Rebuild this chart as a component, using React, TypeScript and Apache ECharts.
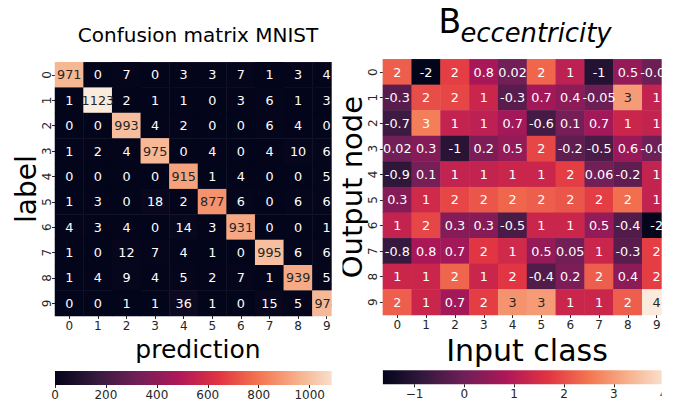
import React, { useEffect, useRef } from "react";
import * as echarts from "echarts";

// ---------- data ----------
const classes = ["0", "1", "2", "3", "4", "5", "6", "7", "8", "9"];

// Confusion matrix MNIST: rows = label, columns = prediction
const mnistRow0 = [971, 0, 7, 0, 3, 3, 7, 1, 3, 4];
const mnistRow1 = [1, 1123, 2, 1, 1, 0, 3, 6, 1, 3];
const mnistRow2 = [0, 0, 993, 4, 2, 0, 0, 6, 4, 0];
const mnistRow3 = [1, 2, 4, 975, 0, 4, 0, 4, 10, 6];
const mnistRow4 = [0, 0, 0, 0, 915, 1, 4, 0, 0, 5];
const mnistRow5 = [1, 3, 0, 18, 2, 877, 6, 0, 6, 6];
const mnistRow6 = [4, 3, 4, 0, 14, 3, 931, 0, 0, 1];
const mnistRow7 = [1, 0, 12, 7, 4, 1, 0, 995, 6, 6];
const mnistRow8 = [1, 4, 9, 4, 5, 2, 7, 1, 939, 5];
const mnistRow9 = [0, 0, 1, 1, 36, 1, 0, 15, 5, 978];
const mnistCounts = [mnistRow0, mnistRow1, mnistRow2, mnistRow3, mnistRow4, mnistRow5, mnistRow6, mnistRow7, mnistRow8, mnistRow9];

// B_eccentricity: rows = output node, columns = input class
const eccRow0 = [2.2, -1.635, 1.8, 0.8, 0.02, 2.3, 1.1, -1.1, 0.5, -0.04];
const eccRow1 = [-0.3, 2.0, 1.9, 1.3, -0.3, 0.7, 0.4, -0.05, 3.0, 1.2];
const eccRow2 = [-0.7, 2.6, 1.2, 1.1, 0.7, -0.6, 0.1, 0.7, 1.3, 1.2];
const eccRow3 = [0.02, 0.3, -1.0, 0.2, 0.5, 1.9, -0.2, -0.5, 0.6, -0.03];
const eccRow4 = [-0.9, 0.1, 1.2, 1.2, 1.3, 1.3, 1.8, 0.06, -0.2, 1.2];
const eccRow5 = [0.3, 1.4, 1.9, 2.1, 2.3, 2.2, 2.1, 1.8, 2.4, 1.2];
const eccRow6 = [1.2, 1.9, 0.3, 0.3, -0.5, 1.3, 1.3, 0.5, -0.4, -1.6];
const eccRow7 = [-0.8, 0.8, 0.7, 1.7, 1.4, 0.5, 0.05, 1.3, -0.3, 1.8];
const eccRow8 = [1.3, 1.3, 2.3, 1.3, 1.7, -0.4, 0.2, 2.2, 0.4, 1.8];
const eccRow9 = [2.2, 1.3, 0.7, 1.8, 2.9, 3.0, 1.3, 1.3, 2.2, 4.15];
const eccentricity = [eccRow0, eccRow1, eccRow2, eccRow3, eccRow4, eccRow5, eccRow6, eccRow7, eccRow8, eccRow9];

// seaborn "rocket" colormap key colours
const ROCKET = ["#03051A", "#35193E", "#701F57", "#AD1759", "#E13342", "#F37651", "#F6B48F", "#FAEBDD"];

const FONT = "DejaVu Sans";
const DARK = "#262626";

// ---------- helpers ----------
function hexToRgb(h: string): number[] {
  const n = parseInt(h.slice(1), 16);
  return [(n >> 16) & 255, (n >> 8) & 255, n & 255];
}
function cmap(t: number): number[] {
  const tt = Math.max(0, Math.min(1, t));
  const pos = tt * (ROCKET.length - 1);
  const i = Math.min(ROCKET.length - 2, Math.floor(pos));
  const f = pos - i;
  const a = hexToRgb(ROCKET[i]);
  const b = hexToRgb(ROCKET[i + 1]);
  return a.map((v, k) => v + (b[k] - v) * f);
}
function relLum(rgb: number[]): number {
  const lin = rgb.map((c) => {
    const s = c / 255;
    return s <= 0.03928 ? s / 12.92 : Math.pow((s + 0.055) / 1.055, 2.4);
  });
  return 0.2126 * lin[0] + 0.7152 * lin[1] + 0.0722 * lin[2];
}
function annotColor(v: number, lo: number, hi: number): string {
  return relLum(cmap((v - lo) / (hi - lo))) > 0.408 ? DARK : "#ffffff";
}
function fmtG1(v: number): string {
  if (v === 0) return "0";
  return String(Number(v.toPrecision(1)));
}
function fmtTick(v: number): string {
  return v < 0 ? "\u2212" + String(Math.abs(v)) : String(v);
}

const lFlat = mnistCounts.flat();
const lMin = Math.min(...lFlat);
const lMax = Math.max(...lFlat);
const rFlat = eccentricity.flat();
const rMin = Math.min(...rFlat);
const rMax = Math.max(...rFlat);

export default function App() {
  const ref = useRef<HTMLDivElement>(null);

  useEffect(() => {
    if (!ref.current) return;
    const chart = echarts.init(ref.current, null, { renderer: "svg" });

    const leftData = mnistCounts.flatMap((row, r) =>
      row.map((v, c) => ({ value: [c, r, v], label: { color: annotColor(v, lMin, lMax) } }))
    );
    const rightData = eccentricity.flatMap((row, r) =>
      row.map((v, c) => ({ value: [c, r, v], label: { color: annotColor(v, rMin, rMax) } }))
    );

    const gradient = () =>
      new echarts.graphic.LinearGradient(
        0, 0, 1, 0,
        ROCKET.map((c, i) => ({ offset: i / (ROCKET.length - 1), color: c }))
      );

    const catX = (gridIndex: number, name: string, nameSize: number, nameGap: number) => ({
      gridIndex,
      type: "category",
      data: classes,
      position: "bottom",
      axisLine: { show: false },
      axisTick: { show: true, alignWithLabel: true, length: 3, lineStyle: { color: DARK } },
      axisLabel: { fontSize: 12, color: DARK, margin: 4, fontFamily: FONT },
      splitLine: { show: false },
      name,
      nameLocation: "middle",
      nameGap,
      nameTextStyle: { fontSize: nameSize, color: "#000", fontFamily: FONT },
    });
    const catY = (gridIndex: number, name: string, nameSize: number, nameGap: number, margin: number) => ({
      gridIndex,
      type: "category",
      data: classes,
      inverse: true,
      axisLine: { show: false },
      axisTick: { show: true, alignWithLabel: true, length: 3, lineStyle: { color: DARK } },
      axisLabel: { fontSize: 12, color: DARK, margin, rotate: 90, fontFamily: FONT },
      splitLine: { show: false },
      name,
      nameLocation: "middle",
      nameRotate: 90,
      nameGap,
      nameTextStyle: { fontSize: nameSize, color: "#000", fontFamily: FONT },
    });

    const heatLabel = (fmt: (v: number) => string) => ({
      show: true,
      fontSize: 12.8,
      fontFamily: FONT,
      formatter: (p: any) => fmt(p.value[2]),
    });

    chart.setOption({
      animation: false,
      backgroundColor: "#ffffff",
      textStyle: { fontFamily: FONT },
      grid: [
        { left: 55, top: 62.3, width: 286, height: 253.7, containLabel: false },
        { left: 382.9, top: 59.3, width: 288.2, height: 255.7, containLabel: false },
        { left: 55, top: 371, width: 286, height: 14, show: true, borderWidth: 0, backgroundColor: gradient() },
        { left: 382.9, top: 370.3, width: 288.2, height: 14, show: true, borderWidth: 0, backgroundColor: gradient() },
      ],
      xAxis: [
        catX(0, "prediction", 25, 13),
        catX(1, "Input class", 30, 12),
        {
          gridIndex: 2,
          type: "value",
          min: lMin,
          max: lMax,
          interval: 200,
          axisLine: { show: false },
          splitLine: { show: false },
          axisTick: { show: true, length: 3, lineStyle: { color: DARK } },
          axisLabel: {
            fontSize: 12,
            color: DARK,
            margin: 4,
            showMaxLabel: false,
            fontFamily: FONT,
            formatter: (v: number) => fmtTick(v),
          },
        },
        {
          gridIndex: 3,
          type: "value",
          min: rMin,
          max: rMax,
          splitNumber: 5,
          axisLine: { show: false },
          splitLine: { show: false },
          axisTick: { show: true, length: 3, lineStyle: { color: DARK } },
          axisLabel: {
            fontSize: 12,
            color: DARK,
            margin: 4,
            showMinLabel: false,
            showMaxLabel: false,
            fontFamily: FONT,
            formatter: (v: number) => fmtTick(v),
          },
        },
      ],
      yAxis: [
        catY(0, "label", 28, 14, 2),
        catY(1, "Output node", 29, 12, 4),
        { gridIndex: 2, type: "value", show: false, min: 0, max: 1 },
        { gridIndex: 3, type: "value", show: false, min: 0, max: 1 },
      ],
      visualMap: [
        { type: "continuous", show: false, seriesIndex: 0, min: lMin, max: lMax, inRange: { color: ROCKET } },
        { type: "continuous", show: false, seriesIndex: 1, min: rMin, max: rMax, inRange: { color: ROCKET } },
      ],
      series: [
        {
          type: "heatmap",
          xAxisIndex: 0,
          yAxisIndex: 0,
          data: leftData,
          label: heatLabel((v) => String(v)),
          itemStyle: { borderWidth: 0 },
          emphasis: { disabled: true },
        },
        {
          type: "heatmap",
          xAxisIndex: 1,
          yAxisIndex: 1,
          data: rightData,
          label: heatLabel(fmtG1),
          itemStyle: { borderWidth: 0 },
          emphasis: { disabled: true },
        },
      ],
      graphic: [
        // masks emulating the cropped figure edges
        { type: "rect", z: 100, silent: true, shape: { x: 331.7, y: 55, width: 10.8, height: 265 }, style: { fill: "#ffffff" } },
        { type: "rect", z: 100, silent: true, shape: { x: 331.7, y: 364, width: 10.8, height: 38 }, style: { fill: "#ffffff" } },
        { type: "rect", z: 100, silent: true, shape: { x: 661.7, y: 50, width: 13, height: 352 }, style: { fill: "#ffffff" } },
        // titles
        {
          type: "text",
          z: 100,
          style: { text: "Confusion matrix MNIST", x: 198, y: 34.8, align: "center", verticalAlign: "middle", fontSize: 20, fontFamily: FONT, fill: "#000" },
        },
        {
          type: "text",
          z: 100,
          style: { text: "B", x: 438.5, y: 21.9, align: "left", verticalAlign: "middle", fontSize: 33, fontFamily: FONT, fill: "#000" },
        },
        {
          type: "text",
          z: 100,
          style: { text: "eccentricity", x: 460.5, y: 33, align: "left", verticalAlign: "middle", fontSize: 25.8, fontStyle: "italic", fontFamily: FONT, fill: "#000" },
        },
      ],
    });

    return () => chart.dispose();
  }, []);

  return (
    <div
      ref={ref}
      style={{ position: "fixed", left: 0, top: 0, width: 674, height: 402, background: "#fff" }}
    />
  );
}
